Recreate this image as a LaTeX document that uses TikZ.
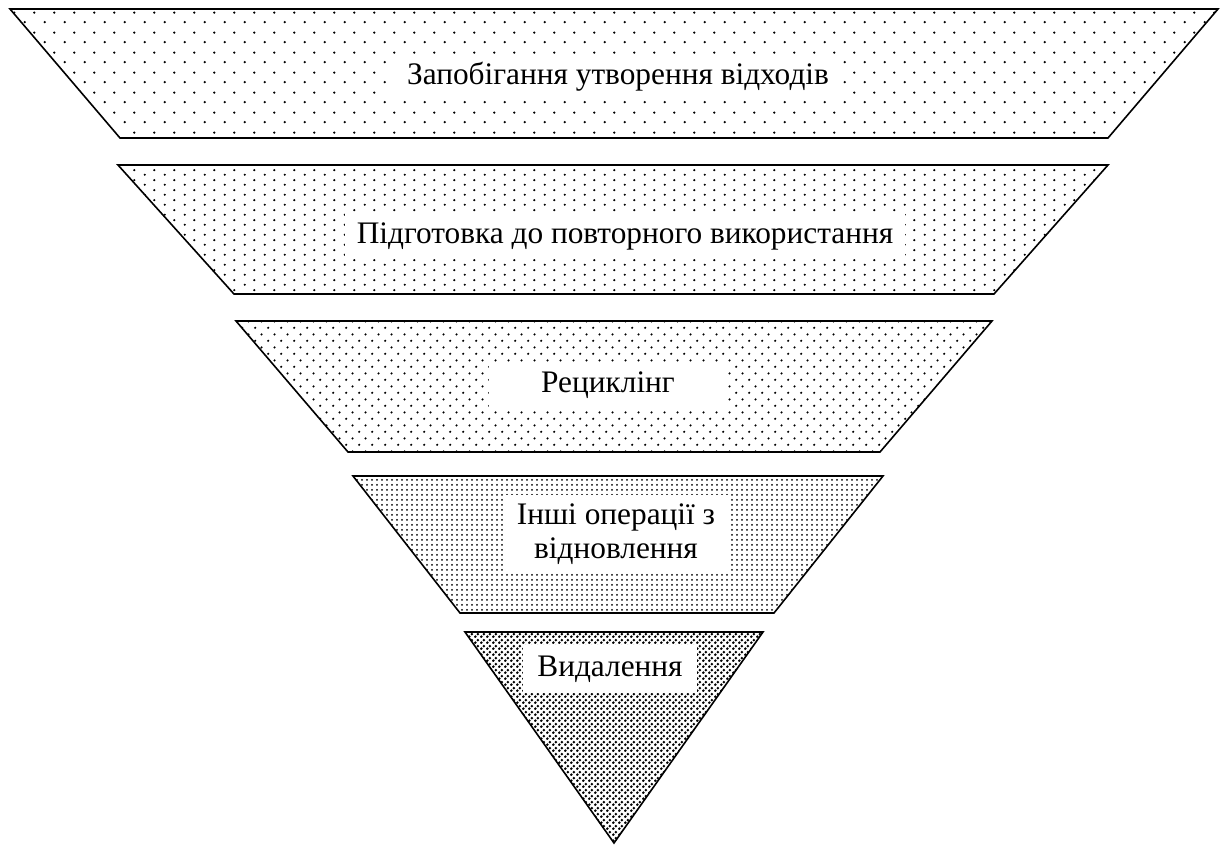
\documentclass[tikz,border=0pt]{standalone}
\usepackage{fontspec}
\setmainfont{Liberation Serif}
\usetikzlibrary{patterns,positioning}

\pgfdeclarepatternformonly{dotsA}{\pgfpointorigin}{\pgfqpoint{15pt}{15pt}}{\pgfqpoint{15pt}{15pt}}{
  \pgfpathcircle{\pgfqpoint{3.75pt}{3.75pt}}{1pt}
  \pgfpathcircle{\pgfqpoint{11.25pt}{11.25pt}}{1pt}
  \pgfusepath{fill}
}
\pgfdeclarepatternformonly{dotsB}{\pgfpointorigin}{\pgfqpoint{15pt}{7.5pt}}{\pgfqpoint{15pt}{7.5pt}}{
  \pgfpathcircle{\pgfqpoint{3.75pt}{1.875pt}}{0.95pt}
  \pgfpathcircle{\pgfqpoint{11.25pt}{5.625pt}}{0.95pt}
  \pgfusepath{fill}
}
\pgfdeclarepatternformonly{dotsC}{\pgfpointorigin}{\pgfqpoint{10pt}{10pt}}{\pgfqpoint{10pt}{10pt}}{
  \pgfpathcircle{\pgfqpoint{2.5pt}{2.5pt}}{0.95pt}
  \pgfpathcircle{\pgfqpoint{7.5pt}{7.5pt}}{0.95pt}
  \pgfusepath{fill}
}
\pgfdeclarepatternformonly{dotsD}{\pgfpointorigin}{\pgfqpoint{3.75pt}{3.75pt}}{\pgfqpoint{3.75pt}{3.75pt}}{
  \pgfpathcircle{\pgfqpoint{1.875pt}{1.875pt}}{0.9pt}
  \pgfusepath{fill}
}
\pgfdeclarepatternformonly{dotsE}{\pgfpointorigin}{\pgfqpoint{4.5pt}{4.5pt}}{\pgfqpoint{4.5pt}{4.5pt}}{
  \pgfpathcircle{\pgfqpoint{1.125pt}{1.125pt}}{1.3pt}
  \pgfpathcircle{\pgfqpoint{3.375pt}{3.375pt}}{1.3pt}
  \pgfusepath{fill}
}

\tikzset{
  layer/.style={draw=black,line width=1.2pt,line join=miter},
  caption/.style={rectangle,fill=white,align=center,inner sep=0pt,
    font=\fontsize{23.5}{26}\selectfont},
}

\begin{document}
\begin{tikzpicture}[x=0.75pt,y=-0.75pt]

        \useasboundingbox (0,0) rectangle (1225,847);

        \draw[layer,pattern=dotsA] (10,9) -- (1218,9) -- (1108,138) -- (120,138) -- cycle;
        \draw[layer,pattern=dotsB] (118,165) -- (1108,165) -- (994,294) -- (234,294) -- cycle;
        \draw[layer,pattern=dotsC] (236,321) -- (992,321) -- (880,452) -- (348,452) -- cycle;
        \draw[layer,pattern=dotsD] (353,476) -- (883,476) -- (774,613) -- (460,613) -- cycle;
        \draw[layer,pattern=dotsE] (465,632) -- (763,632) -- (614,843) -- cycle;

        \node[caption,minimum width=337pt,minimum height=34pt] (prevent) at (618,77) {Запобігання утворення відходів};
        \node[caption,minimum width=420pt,minimum height=34pt] (reuse) at (625,236) {Підготовка до повторного використання};
        \node[caption,minimum width=178pt,minimum height=34pt] (recycle) at (608,385) {Рециклінг};
        \node[caption,minimum width=170pt,minimum height=58pt] (recover) at (616,534) {Інші операції з\\відновлення};
        \node[caption,minimum width=131pt,minimum height=36pt] (dispose) at (610,669) {Видалення};

      \end{tikzpicture}
\end{document}
